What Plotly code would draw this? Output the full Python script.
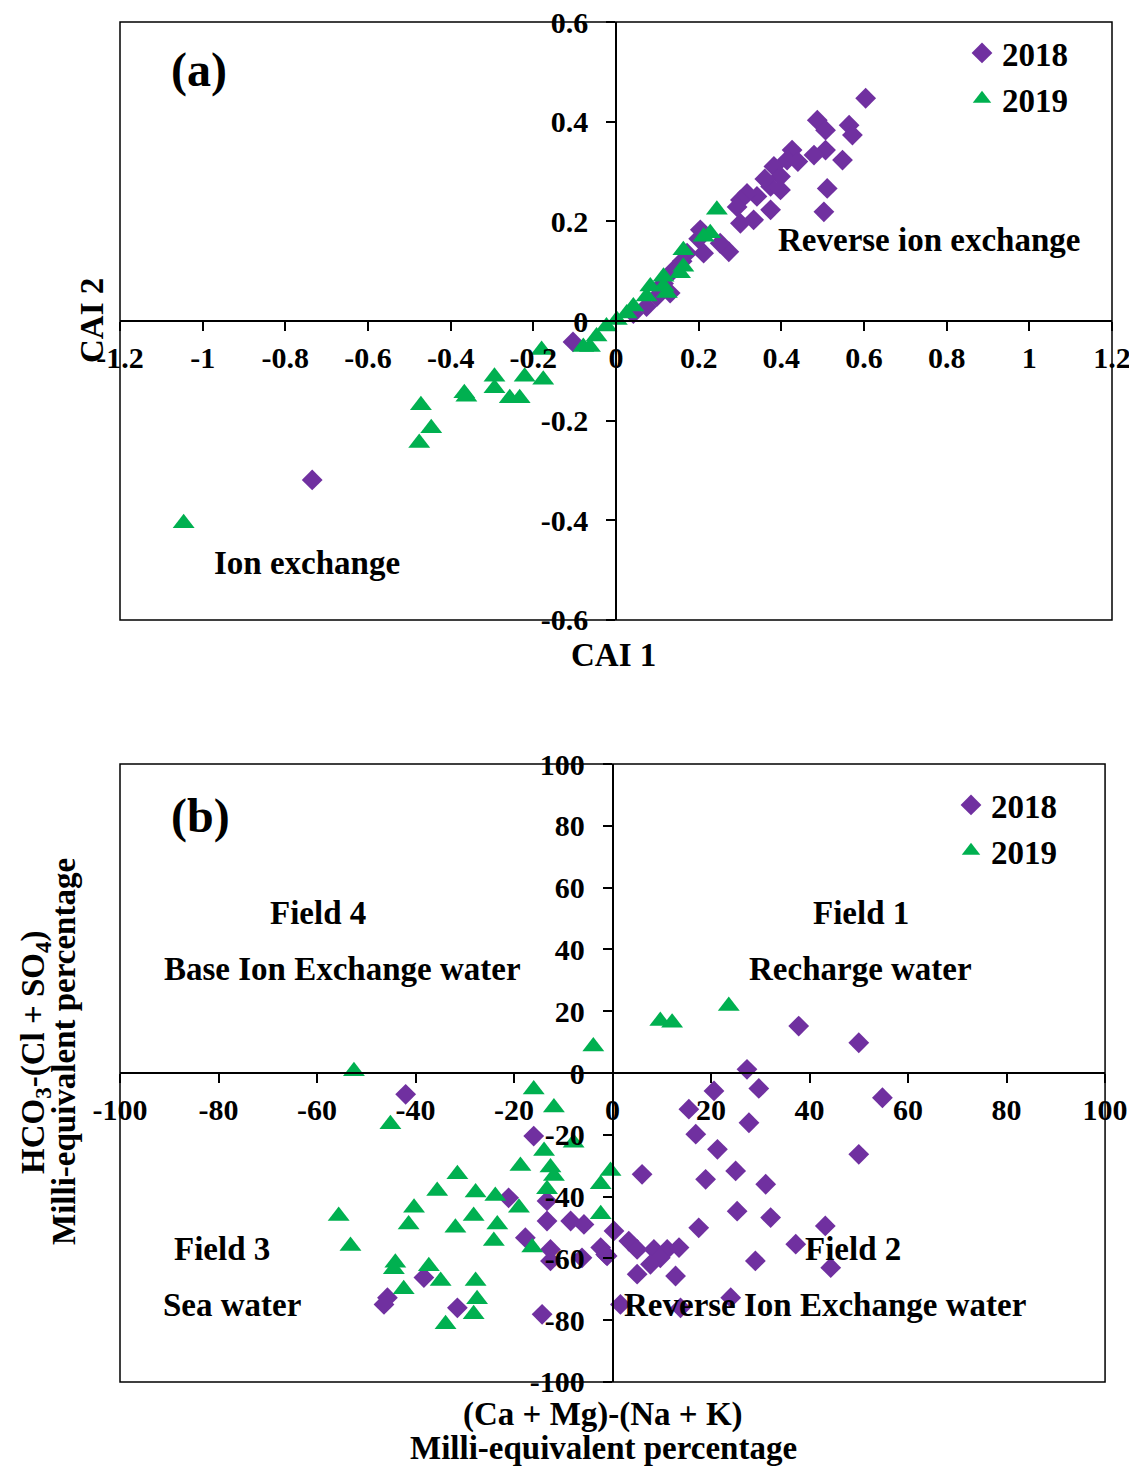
import plotly.graph_objects as go

# ---------------- data: panel (a) ----------------
cai1_2018 = [0.604, 0.487, 0.507, 0.564, 0.572, 0.548, 0.507, 0.479, 0.426, 0.414, 0.382, 0.398,
             0.511, 0.503, 0.374, 0.398, 0.374, 0.341, 0.317, 0.301, 0.333, 0.301, 0.293, 0.273,
             0.252, 0.204, 0.212, 0.172, 0.139, 0.131, 0.099, 0.074, 0.042, -0.104, -0.735,
             0.115, 0.160, 0.200, 0.440, 0.360]
cai2_2018 = [0.447, 0.403, 0.383, 0.393, 0.373, 0.323, 0.343, 0.333, 0.343, 0.323, 0.310, 0.290,
             0.266, 0.219, 0.270, 0.263, 0.223, 0.250, 0.256, 0.243, 0.203, 0.196, 0.229, 0.139,
             0.156, 0.183, 0.136, 0.136, 0.102, 0.056, 0.049, 0.029, 0.015, -0.042, -0.319,
             0.075, 0.120, 0.165, 0.320, 0.285]
cai1_2019 = [0.244, 0.228, 0.212, 0.163, 0.163, 0.155, 0.115, 0.115, 0.123, 0.083, 0.074, 0.042,
             0.026, 0.002, -0.023, -0.047, -0.063, -0.079, -0.180, -0.176, -0.221, -0.233, -0.257,
             -0.294, -0.294, -0.367, -0.362, -0.472, -0.447, -0.476, -1.046]
cai2_2019 = [0.223, 0.176, 0.169, 0.142, 0.109, 0.096, 0.089, 0.069, 0.056, 0.069, 0.049, 0.029,
             0.015, 0.002, -0.011, -0.031, -0.052, -0.052, -0.058, -0.118, -0.112, -0.155, -0.155,
             -0.112, -0.135, -0.145, -0.152, -0.169, -0.215, -0.245, -0.406]

# ---------------- data: panel (b) ----------------
camg_2018 = [37.8, 50.0, 27.3, 29.7, 20.6, 54.8, 15.5, 27.7, 16.9, 21.3, 50.0, 6.0, 25.0, 18.9,
             31.1, 25.3, 32.1, 17.5, 43.2, 37.2, 44.3, 29.0, 0.3, -2.4, -1.1, 3.3, 5.0, 8.4, 11.1,
             13.5, 9.7, 7.7, 5.0, 12.8, 1.6, 13.8, 24.0, -42.0, -16.0, -21.1, -13.3, -13.3, -8.5,
             -5.8, -17.7, -12.6, -12.6, -6.2, -1.4, -38.3, -45.7, -46.4, -31.5, -14.3]
hco3_2018 = [15.2, 9.8, 1.2, -5.0, -5.8, -8.0, -11.7, -16.1, -19.8, -24.7, -26.3, -32.8, -31.7,
             -34.4, -36.0, -44.7, -46.8, -50.1, -49.5, -55.4, -63.0, -60.8, -51.1, -56.5, -59.2,
             -54.4, -57.1, -57.1, -57.1, -56.5, -59.8, -61.9, -65.1, -65.7, -74.9, -76.0, -72.7,
             -6.9, -20.4, -40.4, -41.4, -47.9, -47.9, -49.0, -53.3, -57.1, -60.8, -59.8, -58.7,
             -66.2, -72.7, -74.9, -76.0, -78.1]
camg_2019 = [-52.5, -45.1, -16.0, -11.9, -7.9, -13.9, -18.7, -31.5, -12.6, -11.9, -13.3, -0.4,
             -2.4, -2.4, -35.6, -27.8, -23.8, -19.0, -28.2, -40.3, -41.4, -31.9, -23.4, -24.1,
             -55.6, -53.2, -16.3, -44.1, -44.4, -37.3, -34.9, -42.4, -27.8, -27.5, -28.2, -33.9,
             9.7, 12.1, 23.6, -3.9]
hco3_2019 = [0.6, -16.6, -5.3, -11.2, -22.6, -25.2, -30.1, -32.8, -30.6, -33.3, -37.6, -31.7,
             -36.0, -45.7, -38.2, -38.7, -39.8, -43.6, -46.3, -43.6, -49.0, -50.1, -49.0, -54.4,
             -46.3, -56.0, -56.5, -61.4, -63.5, -62.5, -67.3, -70.0, -67.3, -73.2, -78.1, -81.3,
             16.8, 16.3, 21.7, 8.6]

# ---------------- ticks ----------------
a_xticks = [-1.2, -1.0, -0.8, -0.6, -0.4, -0.2, 0, 0.2, 0.4, 0.6, 0.8, 1.0, 1.2]
a_xticklabels = ["-1.2", "-1", "-0.8", "-0.6", "-0.4", "-0.2", "0", "0.2", "0.4", "0.6", "0.8", "1", "1.2"]
a_yticks = [-0.6, -0.4, -0.2, 0, 0.2, 0.4, 0.6]
a_yticklabels = ["-0.6", "-0.4", "-0.2", "0", "0.2", "0.4", "0.6"]
b_ticks = [-100, -80, -60, -40, -20, 0, 20, 40, 60, 80, 100]
b_ticklabels = ["-100", "-80", "-60", "-40", "-20", "0", "20", "40", "60", "80", "100"]

PURPLE = "#7030A0"
GREEN = "#00B050"
FONT = "Liberation Serif"

# ---------------- layout geometry ----------------
OFF = 8                      # page body margin of the html document
VW, VH = 1137, 1474          # viewport
PL, PT, PW, PH = 120, 22, 992, 1360   # plot area in page pixels
W, H = VW - 2 * OFF, VH - 2 * OFF
ML, MT = PL - OFF, PT - OFF
MR, MB = W - ML - PW, H - MT - PH

a_xdom = [0.0, 1.0]
a_ydom = [0.5603, 1.0]
b_xdom = [0.0, 0.993]
b_ydom = [0.0, 0.4544]
a_xr = [-1.2, 1.2]
a_yr = [-0.6, 0.6]
b_xr = [-100, 100]
b_yr = [-100, 100]


def zero_pos(dom, rng):
    return dom[0] + (0 - rng[0]) / (rng[1] - rng[0]) * (dom[1] - dom[0])


def px2paper(px, py):
    return (px - PL) / PW, (PT + PH - py) / PH


fig = go.Figure()

mk_d = dict(symbol="diamond", size=16, color=PURPLE, line=dict(width=0))
mk_t = dict(symbol="triangle-up", size=19, color=GREEN, line=dict(width=0))

fig.add_trace(go.Scatter(x=cai1_2018, y=cai2_2018, mode="markers", name="2018", marker=mk_d,
                         xaxis="x", yaxis="y", legend="legend"))
fig.add_trace(go.Scatter(x=cai1_2019, y=cai2_2019, mode="markers", name="2019", marker=mk_t,
                         xaxis="x", yaxis="y", legend="legend"))
fig.add_trace(go.Scatter(x=camg_2018, y=hco3_2018, mode="markers", name="2018", marker=mk_d,
                         xaxis="x2", yaxis="y2", legend="legend2"))
fig.add_trace(go.Scatter(x=camg_2019, y=hco3_2019, mode="markers", name="2019", marker=mk_t,
                         xaxis="x2", yaxis="y2", legend="legend2"))

tickfont = dict(family=FONT, size=30, color="black", weight="bold")
axis_common = dict(showgrid=False, zeroline=False, showline=True, linecolor="black", linewidth=1.5,
                   ticks="outside", ticklen=9, tickwidth=1.5, tickcolor="black", tickfont=tickfont,
                   anchor="free", tickmode="array", automargin=False, ticklabeloverflow="allow")
xax = dict(axis_common, ticklabelstandoff=1)
yax = dict(axis_common, ticklabelstandoff=12)

legfont = dict(family=FONT, size=33, color="black", weight="bold")
lg_a = px2paper(962, 25)
lg_b = px2paper(951, 777)
fig.update_layout(
    template="none",
    width=W, height=H,
    margin=dict(l=ML, r=MR, t=MT, b=MB, autoexpand=False),
    plot_bgcolor="white", paper_bgcolor="white",
    xaxis=dict(xax, domain=a_xdom, range=a_xr, tickvals=a_xticks, ticktext=a_xticklabels,
               position=zero_pos(a_ydom, a_yr)),
    yaxis=dict(yax, domain=a_ydom, range=a_yr, tickvals=a_yticks, ticktext=a_yticklabels,
               position=zero_pos(a_xdom, a_xr)),
    xaxis2=dict(xax, domain=b_xdom, range=b_xr, tickvals=b_ticks, ticktext=b_ticklabels,
                position=zero_pos(b_ydom, b_yr)),
    yaxis2=dict(yax, domain=b_ydom, range=b_yr, tickvals=b_ticks, ticktext=b_ticklabels,
                position=zero_pos(b_xdom, b_xr)),
    legend=dict(x=lg_a[0], y=lg_a[1], xanchor="left", yanchor="top",
                bgcolor="rgba(0,0,0,0)", font=legfont, itemwidth=30, tracegroupgap=0),
    legend2=dict(x=lg_b[0], y=lg_b[1], xanchor="left", yanchor="top",
                 bgcolor="rgba(0,0,0,0)", font=legfont, itemwidth=30, tracegroupgap=0),
    showlegend=True,
)

# frames
for xr_, yr_ in (("x domain", "y domain"), ("x2 domain", "y2 domain")):
    fig.add_shape(type="rect", xref=xr_, yref=yr_, x0=0, x1=1, y0=0, y1=1,
                  line=dict(color="black", width=1.5), fillcolor="rgba(0,0,0,0)", layer="below")


def txt(x, y, s, size=33, xref="x", yref="y", **kw):
    fig.add_annotation(x=x, y=y, xref=xref, yref=yref, text=s, showarrow=False,
                       xanchor="center", yanchor="middle",
                       font=dict(family=FONT, size=size, color="black", weight="bold"), **kw)


def ptxt(px, py, s, size=33, **kw):
    xp, yp = px2paper(px, py)
    txt(xp, yp, s, size=size, xref="paper", yref="paper", **kw)


# panel (a) texts
txt(-1.01, 0.504, "(a)", size=48)
txt(0.757, 0.163, "Reverse ion exchange")
txt(-0.748, -0.486, "Ion exchange")
ptxt(613, 655, "CAI 1")
ptxt(92, 321, "CAI 2", textangle=-90)

# panel (b) texts
txt(-83.7, 83.2, "(b)", size=48, xref="x2", yref="y2")
txt(-59.7, 51.8, "Field 4", xref="x2", yref="y2")
txt(-54.8, 33.7, "Base Ion Exchange water", xref="x2", yref="y2")
txt(50.4, 51.8, "Field 1", xref="x2", yref="y2")
txt(50.4, 33.7, "Recharge water", xref="x2", yref="y2")
txt(-79.2, -57.0, "Field 3", xref="x2", yref="y2")
txt(-77.2, -75.1, "Sea water", xref="x2", yref="y2")
txt(48.9, -57.0, "Field 2", xref="x2", yref="y2")
txt(43.2, -75.1, "Reverse Ion Exchange water", xref="x2", yref="y2")
ptxt(603, 1414, "(Ca + Mg)-(Na + K)")
ptxt(603, 1448, "Milli-equivalent percentage")
ptxt(35, 1052, "HCO<sub>3</sub>-(Cl + SO<sub>4</sub>)", textangle=-90)
ptxt(64, 1052, "Milli-equivalent percentage", textangle=-90)

fig.write_html("out.html")
